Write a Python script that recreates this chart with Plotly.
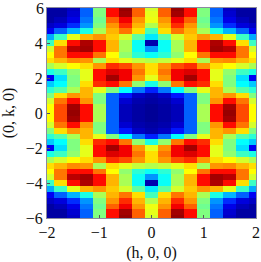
import numpy as np
import plotly.graph_objects as go

# upper-left quadrant: columns h = -2 ... 0, rows k = 6 ... 0 (step 1/3)
h_values = [-2, -1.75, -1.5, -1.25, -1, -0.75, -0.5, -0.25, 0]
row_k600 = [.03, .03, .06, .20, .50, .88, .98, .80, .60]
row_k567 = [.03, .03, .07, .20, .50, .88, .97, .80, .62]
row_k533 = [.03, .05, .09, .22, .48, .80, .90, .75, .63]
row_k500 = [.06, .08, .15, .25, .50, .75, .85, .72, .56]
row_k467 = [.10, .20, .28, .38, .55, .72, .78, .68, .43]
row_k433 = [.27, .42, .62, .72, .75, .70, .60, .46, .33]
row_k400 = [.42, .68, .88, .96, .88, .72, .55, .36, .04]
row_k367 = [.60, .78, .95, .97, .88, .72, .55, .36, .25]
row_k333 = [.65, .78, .88, .88, .78, .65, .52, .40, .36]
row_k300 = [.68, .72, .76, .75, .55, .68, .62, .58, .56]
row_k267 = [.55, .60, .65, .68, .75, .85, .82, .75, .68]
row_k233 = [.38, .42, .52, .62, .88, .92, .90, .78, .68]
row_k200 = [.10, .32, .50, .62, .88, .97, .90, .75, .62]
row_k167 = [.30, .35, .50, .68, .85, .88, .78, .52, .38]
row_k133 = [.40, .45, .55, .72, .62, .50, .35, .22, .14]
row_k100 = [.50, .68, .75, .72, .50, .20, .13, .06, .04]
row_k067 = [.60, .78, .88, .75, .50, .20, .07, .04, .03]
row_k033 = [.65, .82, .97, .88, .55, .20, .05, .03, .02]
row_k000 = [.65, .82, .98, .88, .55, .20, .05, .03, .02]

quadrant = [row_k600, row_k567, row_k533, row_k500, row_k467, row_k433, row_k400,
            row_k367, row_k333, row_k300, row_k267, row_k233, row_k200, row_k167,
            row_k133, row_k100, row_k067, row_k033, row_k000]

x_ticks = [-2, -1, 0, 1, 2]
x_tick_labels = ["\u22122", "\u22121", "0", "1", "2"]
y_ticks = [-6, -4, -2, 0, 2, 4, 6]
y_tick_labels = ["\u22126", "\u22124", "\u22122", "0", "2", "4", "6"]

jet = [[0, "rgb(0,0,128)"], [0.11, "rgb(0,0,255)"], [0.35, "rgb(0,255,255)"],
       [0.5, "rgb(128,255,128)"], [0.65, "rgb(255,255,0)"], [0.89, "rgb(255,0,0)"],
       [1, "rgb(128,0,0)"]]

q = np.array(quadrant)
top = np.hstack([q, q[:, -2::-1]])
z = np.vstack([top, top[-2::-1]])[::-1]
x = h_values + [-v for v in h_values[-2::-1]]
k_top = [6 - i / 3 for i in range(len(quadrant))]
y = [-v for v in k_top] + k_top[-2::-1]

font = "Liberation Serif"
tick_font = dict(family=font, size=16, color="#111")
fig = go.Figure(go.Heatmap(x=x, y=y, z=z, colorscale=jet, zmin=0, zmax=1,
                           showscale=False, hoverinfo="skip"))
axis = dict(ticks="inside", ticklen=3, tickwidth=0.7, tickcolor="#555", automargin=False,
            showline=True, mirror=True, linecolor="#8a8aa0", linewidth=1,
            showgrid=False, zeroline=False, tickfont=tick_font)
fig.update_xaxes(range=[-2, 2], tickvals=x_ticks, ticktext=x_tick_labels,
                 title=dict(text="(h, 0, 0)", font=dict(family=font, size=16, color="#111"), standoff=6), **axis)
fig.update_yaxes(range=[-6, 6], tickvals=y_ticks[:-1], ticktext=y_tick_labels[:-1],
                 title=dict(text="(0, k, 0)", font=dict(family=font, size=16, color="#111"), standoff=7), **axis)
# the top tick label sits at the canvas edge, where plotly would hide a regular tick label
fig.add_annotation(x=0, xref="paper", y=y_ticks[-1], yref="y", text=y_tick_labels[-1],
                   showarrow=False, xanchor="right", yanchor="middle", xshift=-1,
                   font=tick_font)
fig.update_layout(width=261, height=262, margin=dict(l=46.5, r=4.5, t=8, b=44),
                  paper_bgcolor="white", plot_bgcolor="white")
fig.write_html("out.html", config=dict(displayModeBar=False),
               post_script="document.body.style.margin='0';document.body.style.overflow='hidden';")
